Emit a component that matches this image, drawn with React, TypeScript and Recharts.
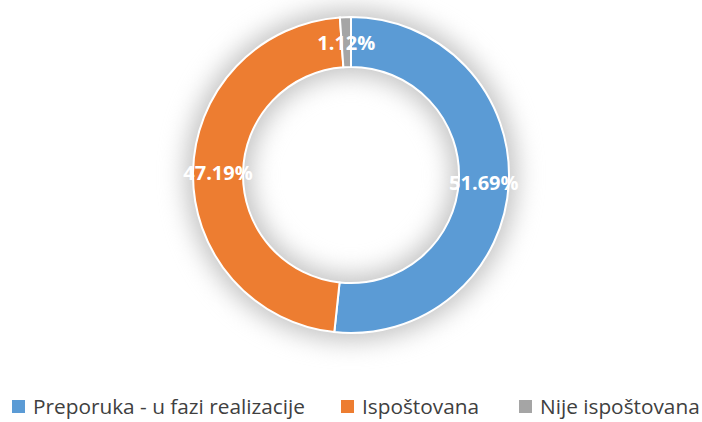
import { Legend, Pie, PieChart, Cell } from 'recharts'

const categories = ['Preporuka - u fazi realizacije', 'Ispoštovana', 'Nije ispoštovana']
const counts = [46, 42, 1]
const colors = ['#5B9BD5', '#ED7D31', '#A5A5A5']

const total = counts.reduce((a, b) => a + b, 0)
const data = categories.map((name, i) => ({ name, value: counts[i] }))
const ring = [{ name: 'shadow', value: 1 }]

const RAD = Math.PI / 180
const FONT = '"Open Sans", sans-serif'

function renderLabel(props: any) {
  const { cx, cy, midAngle, innerRadius, outerRadius, value } = props
  const r = (innerRadius + outerRadius) / 2
  const x = cx + r * Math.cos(-midAngle * RAD)
  const y = cy + r * Math.sin(-midAngle * RAD)
  return (
    <text
      x={x}
      y={y}
      fill="#ffffff"
      textAnchor="middle"
      dominantBaseline="central"
      fontFamily={FONT}
      fontWeight="bold"
      fontSize={20}
    >
      {((value / total) * 100).toFixed(2)}%
    </text>
  )
}

function renderLegend() {
  return (
    <div style={{ display: 'flex', whiteSpace: 'nowrap', fontFamily: FONT, fontSize: 20.8, color: '#404040', paddingLeft: 12 }}>
      {categories.map((c, i) => (
        <div key={c} style={{ display: 'flex', alignItems: 'center', marginRight: i === 0 ? 36 : 40 }}>
          <span style={{ width: 13, height: 13, background: colors[i], display: 'inline-block', marginRight: 8 }} />
          <span>{c}</span>
        </div>
      ))}
    </div>
  )
}

export default function App() {
  return (
    <div style={{ position: 'absolute', left: 0, top: 0, width: 702, height: 422, background: '#fff' }}>
      <style>{'.glow-ring .recharts-sector { filter: blur(12px); }'}</style>
      <PieChart width={702} height={422} margin={{ top: 0, right: 0, bottom: 0, left: 0 }}>
        <Pie
          className="glow-ring"
          data={ring}
          dataKey="value"
          cx={351}
          cy={175}
          innerRadius={100}
          outerRadius={166}
          startAngle={90}
          endAngle={-270}
          stroke="none"
          label={false}
          labelLine={false}
          legendType="none"
          isAnimationActive={false}
        >
          <Cell fill="#c4c4c4" />
        </Pie>
        <Pie
          data={data}
          dataKey="value"
          nameKey="name"
          cx={351}
          cy={175}
          innerRadius={108}
          outerRadius={158}
          startAngle={90}
          endAngle={-270}
          stroke="#ffffff"
          strokeWidth={2}
          label={renderLabel}
          labelLine={false}
          isAnimationActive={false}
        >
          {data.map((d, i) => (
            <Cell key={d.name} fill={colors[i]} />
          ))}
        </Pie>
        <Legend content={renderLegend} verticalAlign="bottom" wrapperStyle={{ left: 0, bottom: 2, width: 702 }} />
      </PieChart>
    </div>
  )
}
